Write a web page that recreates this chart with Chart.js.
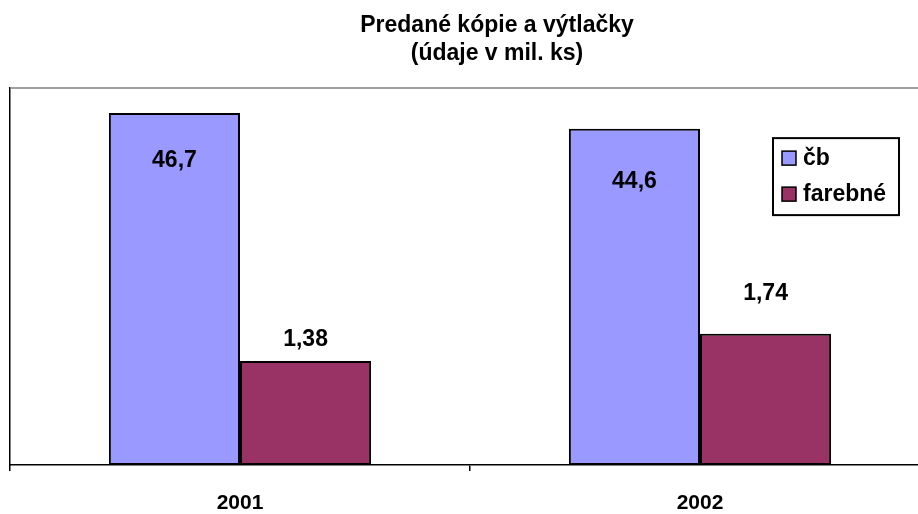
<!DOCTYPE html>
<html>
<head>
<meta charset="utf-8">
<script src="https://cdn.jsdelivr.net/npm/chart.js@4/dist/chart.umd.min.js"></script>
<style>
body { margin:0; background:#fff; overflow:hidden; }
#wrap { width:918px; height:514px; overflow:hidden; }
</style>
</head>
<body>
<div id="wrap"><canvas id="c" width="984" height="514"></canvas></div>
<script>
var years = ['2001', '2002']
var cbValues = [46.7, 44.6]
var colorValues = [1.38, 1.74]
var seriesNames = ['čb', 'farebné']
var titleLines = ['Predané kópie a výtlačky', '(údaje v mil. ks)']

var FONT = "'Liberation Sans', Arial, sans-serif"
Chart.defaults.color = '#000'
Chart.defaults.font.family = FONT

// where each value label sits relative to its bar top (px, + is downwards)
var labelShift = [[48, 53], [-21, -40]]

function fmt(v){ return String(v).replace('.', ',') }

var frame = {
    id: 'frame',
    beforeDatasetsDraw: function(chart){
        var a = chart.chartArea, ctx = chart.ctx
        ctx.save()
        ctx.strokeStyle = '#808080'
        ctx.lineWidth = 1.5
        ctx.beginPath()
        ctx.moveTo(a.left, a.top)
        ctx.lineTo(a.right, a.top)
        ctx.stroke()
        ctx.restore()
    },
    afterDraw: function(chart){
        var ctx = chart.ctx, a = chart.chartArea
        ctx.save()
        ctx.font = 'bold 23px ' + FONT
        ctx.fillStyle = '#000'
        ctx.textAlign = 'center'
        ctx.textBaseline = 'middle'
        chart.data.datasets.forEach(function(ds, i){
            chart.getDatasetMeta(i).data.forEach(function(bar, j){
                ctx.fillText(fmt(ds.data[j]), bar.x, bar.y + labelShift[i][j])
            })
        })
        // legend box
        var lx = a.right - 157, ly = a.top + 50, lw = 126, lh = 77
        ctx.fillStyle = '#fff'
        ctx.fillRect(lx, ly, lw, lh)
        ctx.strokeStyle = '#000'
        ctx.lineWidth = 2
        ctx.strokeRect(lx, ly, lw, lh)
        ctx.textAlign = 'left'
        ctx.lineWidth = 1.5
        chart.data.datasets.forEach(function(ds, i){
            var cy = ly + 20 + i * 36
            ctx.fillStyle = ds.backgroundColor
            ctx.fillRect(lx + 9, cy - 7, 14, 14)
            ctx.strokeRect(lx + 9, cy - 7, 14, 14)
            ctx.fillStyle = '#000'
            ctx.fillText(ds.label, lx + 30, cy + 1)
        })
        ctx.restore()
    }
}

new Chart(document.getElementById('c'), {
    type: 'bar',
    data: {
        labels: years,
        datasets: [
            { label: seriesNames[0], data: cbValues, yAxisID: 'y',
              backgroundColor: '#9999FF', borderColor: '#000', borderWidth: 2, borderSkipped: false },
            { label: seriesNames[1], data: colorValues, yAxisID: 'y2',
              backgroundColor: '#993366', borderColor: '#000', borderWidth: 2, borderSkipped: false }
        ]
    },
    options: {
        responsive: false,
        animation: false,
        layout: { padding: { left: 10, right: 0, top: 0, bottom: 0 } },
        datasets: { bar: { categoryPercentage: 0.57, barPercentage: 1 } },
        plugins: {
            legend: { display: false },
            tooltip: { enabled: false },
            title: {
                display: true,
                text: titleLines,
                color: '#000',
                font: { size: 23, weight: 'bold', lineHeight: 1.22 },
                padding: { top: 12, bottom: 20 }
            }
        },
        scales: {
            x: {
                grid: { offset: true, drawOnChartArea: false, tickLength: 6, color: '#000', lineWidth: 1.5 },
                border: { color: '#000', width: 1.5 },
                ticks: { padding: 20, font: { size: 21, weight: 'bold' } },
                afterFit: function(s){ s.height = 49 }
            },
            y: {
                position: 'left', min: 0, max: 50,
                ticks: { display: false },
                grid: { display: false, drawTicks: false },
                border: { color: '#000', width: 1.5 },
                afterFit: function(s){ s.width = 0 }
            },
            y2: {
                position: 'right', min: 0, max: 5,
                ticks: { display: false },
                grid: { display: false, drawTicks: false },
                border: { display: false },
                afterFit: function(s){ s.width = 54 }
            }
        }
    },
    plugins: [frame]
})
</script>
</body>
</html>
